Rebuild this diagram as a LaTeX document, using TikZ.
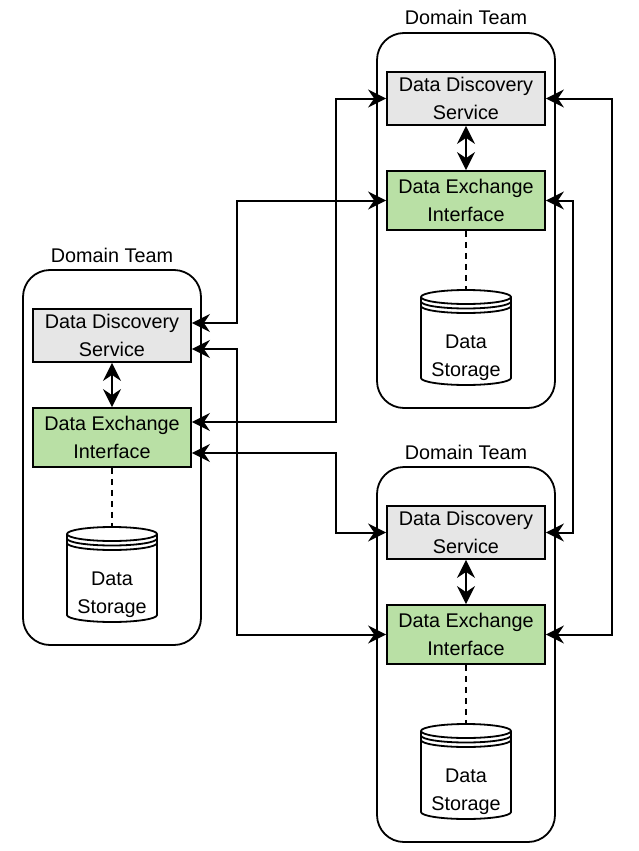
\documentclass[tikz,border=0pt]{standalone}
\usepackage{fontspec}
\setmainfont{Liberation Sans}
\usetikzlibrary{arrows.meta,calc}
\definecolor{ddsfill}{HTML}{E6E6E6}
\definecolor{deifill}{HTML}{B9E0A5}
\tikzset{
  container/.style={draw=black,line width=1.8pt,rounded corners=27pt,minimum width=178pt,minimum height=375pt,inner sep=0pt},
  teamlabel/.style={anchor=base,inner sep=0pt,font=\fontsize{19.8}{28}\selectfont},
  boxbase/.style={draw=black,line width=1.8pt,minimum width=158pt,inner sep=0pt,align=center,font=\fontsize{19.8}{28}\selectfont},
  ddsbox/.style={boxbase,fill=ddsfill,minimum height=53pt},
  deibox/.style={boxbase,fill=deifill,minimum height=59pt},
  sttext/.style={inner sep=0pt,align=center,font=\fontsize{19.8}{28}\selectfont},
  cylline/.style={draw=black,line width=1.8pt},
  dashline/.style={draw=black,line width=1.8pt,dash pattern=on 6pt off 5pt},
  arr/.style={line width=2pt,{Stealth[length=18pt,width=18pt,inset=6pt]}-{Stealth[length=18pt,width=18pt,inset=6pt]}},
}
\newcommand{\domainteam}[3]{%
  \node[container] (#1box) at (#2+89,#3+187.5) {};
  \node[teamlabel] (#1lbl) at (#2+89,#3-8) {Domain Team};
  \node[ddsbox] (#1dds) at (#2+89,#3+65.5) {Data Discovery\\Service};
  \node[deibox] (#1dei) at (#2+89,#3+167.5) {Data Exchange\\Interface};
  \draw[cylline,fill=white] (#2+44,#3+264) arc[start angle=180,end angle=0,x radius=45pt,y radius=7pt]
     -- (#2+134,#3+345) arc[start angle=0,end angle=-180,x radius=45pt,y radius=7pt] -- cycle;
  \draw[cylline] (#2+44,#3+264) arc[start angle=180,end angle=360,x radius=45pt,y radius=7pt];
  \draw[cylline] (#2+44,#3+268.5) arc[start angle=180,end angle=360,x radius=45pt,y radius=7pt];
  \draw[cylline] (#2+44,#3+273) arc[start angle=180,end angle=360,x radius=45pt,y radius=7pt];
  \coordinate (#1sttop) at (#2+89,#3+257);
  \node[sttext] (#1st) at (#2+89,#3+324.5) {Data\\Storage};
  \draw[dashline] (#1dei.south) -- (#1sttop);
  \draw[arr] (#1dds.south) -- (#1dei.north);
}
\begin{document}
\begin{tikzpicture}[x=1pt,y=-1pt]
\useasboundingbox (0,0) rectangle (639,851);
\domainteam{L}{23}{270}
\domainteam{TR}{377}{33}
\domainteam{BR}{377}{467}
\coordinate (xa) at (237,0);
\coordinate (xb) at (336,0);
\coordinate (xc) at (573,0);
\coordinate (xd) at (612,0);
\draw[arr] ([yshift=12.5pt]Ldds.east) -| (xa |- TRdei.west) -- (TRdei.west);
\draw[arr] ([yshift=-13.5pt]Ldds.east) -| (xa |- BRdei.west) -- (BRdei.west);
\draw[arr] ([yshift=15.5pt]Ldei.east) -| (xb |- TRdds.west) -- (TRdds.west);
\draw[arr] ([yshift=-15.5pt]Ldei.east) -| (xb |- BRdds.west) -- (BRdds.west);
\draw[arr] (TRdds.east) -| (xd |- BRdei.east) -- (BRdei.east);
\draw[arr] (TRdei.east) -| (xc |- BRdds.east) -- (BRdds.east);
\end{tikzpicture}
\end{document}
